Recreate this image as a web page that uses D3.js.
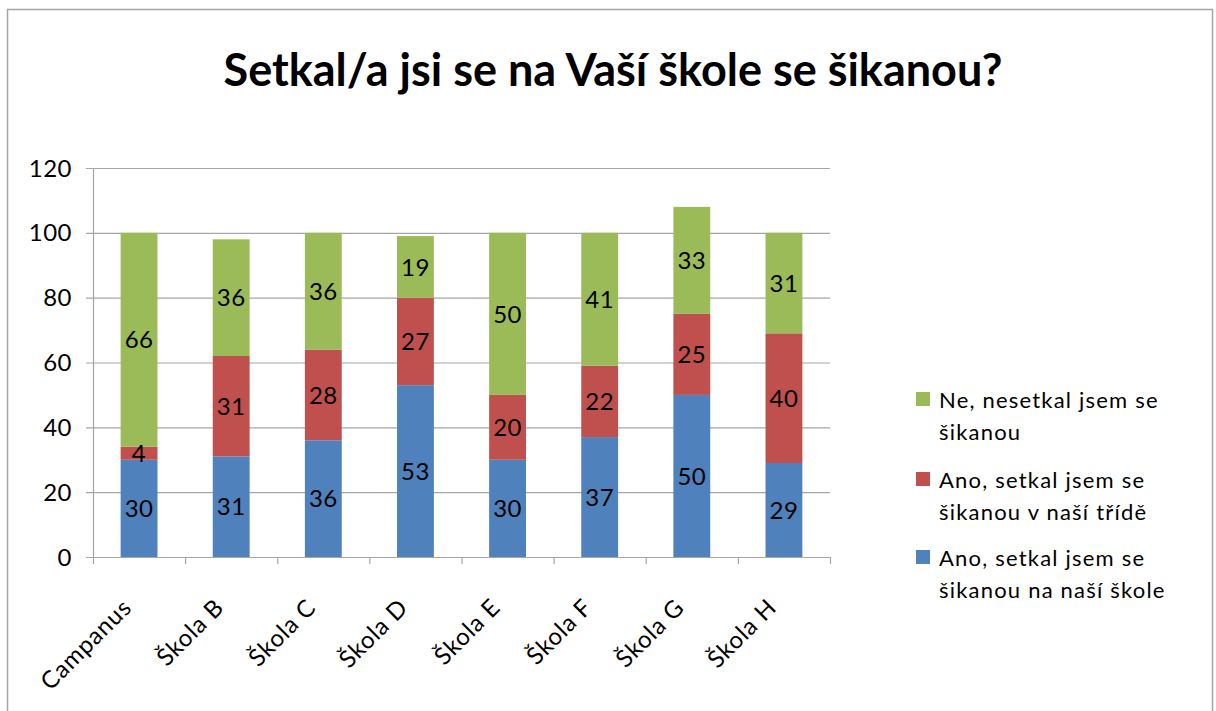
<!DOCTYPE html>
<html>
<head>
<meta charset="utf-8">
<script src="https://cdn.jsdelivr.net/npm/d3@7"></script>
<style>
  body { margin: 0; background: #fff; }
  text { font-family: Lato, "Open Sans", sans-serif; }
</style>
</head>
<body>
<div id="chart"></div>
<script>
const categories = ["Campanus", "Škola B", "Škola C", "Škola D", "Škola E", "Škola F", "Škola G", "Škola H"];
const naSkole = [30, 31, 36, 53, 30, 37, 50, 29];
const vTride = [4, 31, 28, 27, 20, 22, 25, 40];
const nesetkal = [66, 36, 36, 19, 50, 41, 33, 31];
const yTicks = [0, 20, 40, 60, 80, 100, 120];

const seriesNames = [
  ["Ano, setkal jsem se", "šikanou na naší škole"],
  ["Ano, setkal jsem se", "šikanou v naší třídě"],
  ["Ne, nesetkal jsem se", "šikanou"]
];
const colors = ["#4f81bd", "#c0504d", "#9bbb59"];

const W = 1216, H = 711;
const plot = { left: 93, right: 830, top: 168, bottom: 557 };

const svg = d3.select("#chart").append("svg")
  .attr("width", W)
  .attr("height", H);

svg.append("rect")
  .attr("x", 7.5).attr("y", 9.5)
  .attr("width", 1205).attr("height", 740)
  .attr("fill", "#fff")
  .attr("stroke", "#a6a6a6")
  .attr("stroke-width", 1.5);

svg.append("text")
  .attr("x", 613)
  .attr("y", 86)
  .attr("text-anchor", "middle")
  .style("font-size", "45px")
  .style("font-weight", "bold")
  .text("Setkal/a jsi se na Vaší škole se šikanou?");

const x = d3.scaleBand()
  .domain(categories)
  .range([plot.left, plot.right])
  .paddingInner(0.6)
  .paddingOuter(0.3);

const xTicks = d3.scaleBand()
  .domain(categories)
  .range([plot.left, plot.right]);

const y = d3.scaleLinear()
  .domain([0, 120])
  .range([plot.bottom, plot.top]);

// gridlines
svg.append("g")
  .selectAll("line")
  .data(yTicks)
  .join("line")
  .attr("x1", plot.left - 7)
  .attr("x2", plot.right)
  .attr("y1", d => y(d) + 0.5)
  .attr("y2", d => y(d) + 0.5)
  .attr("stroke", "#a6a6a6")
  .attr("stroke-width", 1.2);

svg.append("line")
  .attr("x1", plot.left + 0.5).attr("x2", plot.left + 0.5)
  .attr("y1", plot.top).attr("y2", plot.bottom)
  .attr("stroke", "#a6a6a6")
  .attr("stroke-width", 1.2);

svg.append("g")
  .selectAll("text")
  .data(yTicks)
  .join("text")
  .attr("x", 72)
  .attr("y", d => y(d))
  .attr("dy", "0.36em")
  .attr("text-anchor", "end")
  .style("font-size", "24px")
  .style("letter-spacing", "0.5px")
  .text(d => d);

// x ticks
const tickXs = categories.map(c => xTicks(c)).concat([plot.right]);
svg.append("g")
  .selectAll("line")
  .data(tickXs)
  .join("line")
  .attr("x1", d => d + 0.5).attr("x2", d => d + 0.5)
  .attr("y1", plot.bottom).attr("y2", plot.bottom + 7)
  .attr("stroke", "#a6a6a6")
  .attr("stroke-width", 1.2);

const series = [naSkole, vTride, nesetkal];
const stacked = categories.map((c, i) => {
  let base = 0;
  return series.map((s, k) => {
    const seg = { cat: c, k: k, y0: base, y1: base + s[i], v: s[i] };
    base += s[i];
    return seg;
  });
}).flat();

svg.append("g")
  .selectAll("rect")
  .data(stacked)
  .join("rect")
  .attr("x", d => x(d.cat))
  .attr("width", x.bandwidth())
  .attr("y", d => y(d.y1))
  .attr("height", d => y(d.y0) - y(d.y1))
  .attr("fill", d => colors[d.k]);

svg.append("g")
  .selectAll("text")
  .data(stacked)
  .join("text")
  .attr("x", d => x(d.cat) + x.bandwidth() / 2)
  .attr("y", d => y((d.y0 + d.y1) / 2))
  .attr("dy", "0.36em")
  .attr("text-anchor", "middle")
  .style("font-size", "24px")
  .style("letter-spacing", "0.5px")
  .text(d => d.v);

// category labels
svg.append("g")
  .selectAll("text")
  .data(categories)
  .join("text")
  .attr("transform", c => `translate(${x(c) + x.bandwidth() / 2 - 6},${plot.bottom + 52}) rotate(-45)`)
  .attr("text-anchor", "end")
  .style("font-size", "24px")
  .style("letter-spacing", "0.8px")
  .text(c => c);

// legend
const legendTop = [550, 472, 392];
const legend = svg.append("g");
seriesNames.forEach((lines, k) => {
  legend.append("rect")
    .attr("x", 916).attr("y", legendTop[k])
    .attr("width", 14).attr("height", 14)
    .attr("fill", colors[k]);
  lines.forEach((t, j) => {
    legend.append("text")
      .attr("x", 939)
      .attr("y", legendTop[k] + 8 + j * 32)
      .attr("dy", "0.36em")
      .style("font-size", "22px")
      .style("letter-spacing", "1.2px")
      .text(t);
  });
});
</script>
</body>
</html>
